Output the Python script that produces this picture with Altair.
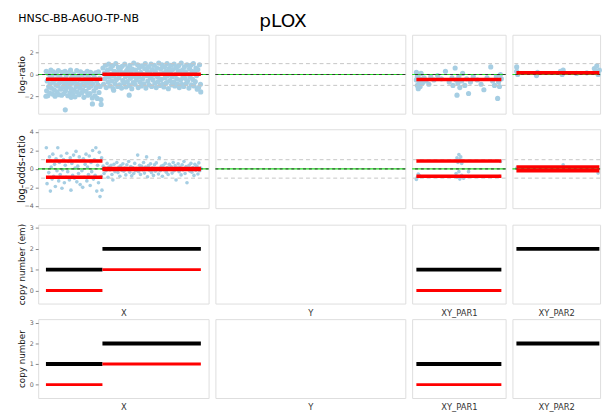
import altair as alt
import pandas as pd

# ---------------- chromosomes / panels ----------------
chroms = ["X", "Y", "XY_PAR1", "XY_PAR2"]
chrom_start = [2.7, 2.7, 0.0, 155.70]
chrom_end = [155.7, 57.2, 2.72, 156.017]
panel_w = [175, 195, 96, 90]
panel_h = 81

sample_title = "HNSC-BB-A6UO-TP-NB"
main_title = "pLOX"

row_titles = ["log-ratio", "log-odds-ratio", "copy number (em)", "copy number"]
row_title_size = [9.2, 10, 9, 9]
row_domains = [[-3.6, 3.65], [-4.25, 4.3], [-0.63, 3.16], [-0.65, 3.18]]
row_ticks = [[-2, 0, 2], [-4, -2, 0, 2, 4], [0, 1, 2, 3], [0, 1, 2, 3]]

# ---------------- log-ratio points ----------------
lr_x_xl = [3.0, 3.4, 3.9, 4.5, 5.0, 5.4, 6.1, 6.5, 7.0, 7.6,
           8.1, 8.6, 9.2, 9.7, 10.1, 10.8, 11.3, 11.7, 12.4, 12.9,
           13.5, 13.9, 14.6, 15.0, 15.5, 16.2, 16.6, 17.3, 17.8, 18.2,
           18.9, 19.4, 20.0, 20.5, 21.1, 21.6, 22.0, 22.7, 23.2, 23.8,
           24.3, 24.9, 25.4, 25.9, 26.5, 27.0, 27.6, 28.1, 28.7, 29.2,
           29.8, 30.3, 30.9, 31.4, 32.0, 32.5, 33.1, 33.6, 34.2, 34.7,
           35.3, 35.8, 36.4, 36.9, 37.5, 38.0, 38.6, 39.1, 39.7, 40.2,
           40.8, 41.3, 41.9, 42.4, 43.0, 43.5, 44.1, 44.6, 45.2, 45.7,
           46.3, 46.8, 47.4, 47.9, 48.5, 49.0, 49.6, 50.1, 50.7, 51.2,
           51.8, 52.3, 52.9, 53.4, 54.0, 54.5, 55.1, 55.6, 56.2, 57.0,
           2.7, 21.8, 27.6, 48.6, 57.2]
lr_y_xl = [0.30, -1.50, -0.60, -1.95, 0.10, -1.10, -0.35, -1.70, -0.85, 0.40,
           -1.25, -0.15, -1.80, -0.70, 0.25, -1.40, -0.50, -2.00, -0.95, 0.05,
           -1.60, -0.40, -1.05, 0.35, -1.85, -0.75, -0.20, -1.35, -0.60, -1.90,
           0.20, -1.15, -0.45, -1.75, -0.90, 0.30, -1.50, -0.10, -1.20, -0.65,
           -1.95, 0.15, -1.00, -0.55, -1.65, 0.40, -1.30, -0.25, -0.80, -1.80,
           0.05, -1.45, -0.70, -2.05, -0.30, -1.10, 0.35, -1.60, -0.90, -0.15,
           -1.85, -0.50, -1.25, 0.25, -0.95, -1.70, -0.05, -1.40, -0.60, -2.10,
           0.10, -1.00, -0.40, -1.55, -0.80, 0.30, -1.90, -0.20, -1.20, -0.65,
           -1.75, 0.20, -1.05, -0.45, -2.15, -0.85, 0.00, -1.50, -0.30, -1.95,
           0.15, -1.20, -0.60, -2.20, -0.95, 0.25, -1.65, -0.35, -1.10, -2.30,
           -2.0, -3.25, -2.1, -2.7, -2.75]

lr_x_xr = [59.0, 59.6, 60.3, 60.9, 61.5, 62.2, 62.8, 63.4, 64.1, 64.7,
           65.3, 66.0, 66.6, 67.2, 67.9, 68.5, 69.1, 69.8, 70.4, 71.0,
           71.7, 72.3, 72.9, 73.6, 74.2, 74.8, 75.5, 76.1, 76.7, 77.4,
           78.0, 78.6, 79.3, 79.9, 80.5, 81.2, 81.8, 82.4, 83.1, 83.7,
           84.3, 85.0, 85.6, 86.2, 86.9, 87.5, 88.1, 88.8, 89.4, 90.0,
           90.7, 91.3, 91.9, 92.6, 93.2, 93.8, 94.5, 95.1, 95.7, 96.4,
           97.0, 97.6, 98.3, 98.9, 99.5, 100.2, 100.8, 101.4, 102.1, 102.7,
           103.3, 104.0, 104.6, 105.2, 105.9, 106.5, 107.1, 107.8, 108.4, 109.0,
           109.7, 110.3, 110.9, 111.6, 112.2, 112.8, 113.5, 114.1, 114.7, 115.4,
           116.0, 116.6, 117.3, 117.9, 118.5, 119.2, 119.8, 120.4, 121.1, 121.7,
           122.3, 123.0, 123.6, 124.2, 124.9, 125.5, 126.1, 126.8, 127.4, 128.0,
           128.7, 129.3, 129.9, 130.6, 131.2, 131.8, 132.5, 133.1, 133.7, 134.4,
           135.0, 135.6, 136.3, 136.9, 137.5, 138.2, 138.8, 139.4, 140.1, 140.7,
           141.3, 142.0, 142.6, 143.2, 143.9, 144.5, 145.1, 145.8, 146.4, 147.0,
           147.7, 148.3, 148.9, 149.6, 150.2, 150.8, 151.5, 152.1, 152.7, 155.3,
           69.6, 84.9, 155.6, 153.5, 154.4]
lr_y_xr = [0.60, -0.90, 0.10, -0.40, 0.85, -1.20, -0.10, 0.40, -0.70, 0.95,
           -0.25, -1.05, 0.55, 0.05, -0.60, 0.80, -1.30, -0.15, 0.30, -0.85,
           1.00, -0.45, 0.20, -1.10, 0.65, -0.30, -0.95, 0.45, 0.00, -1.25,
           0.75, -0.55, 0.15, -0.80, 0.95, -0.20, -1.15, 0.35, -0.65, 0.60,
           -0.05, -1.00, 0.85, -0.35, 0.25, -1.30, 0.50, -0.75, 1.05, -0.15,
           -0.90, 0.40, -0.50, 0.10, 0.90, -1.20, -0.25, 0.65, -0.70, 0.20,
           -1.05, 0.80, -0.40, 0.00, -0.85, 0.55, 1.00, -1.25, -0.10, 0.35,
           -0.60, 0.70, -0.95, 0.15, -0.30, 0.95, -1.10, 0.45, -0.50, -0.05,
           0.85, -0.80, 0.25, -1.20, 0.60, -0.20, -0.65, 1.05, 0.05, -1.00,
           0.50, -0.45, 0.90, -0.90, 0.10, -1.15, 0.70, -0.30, 0.30, -0.75,
           1.00, -0.10, -1.30, 0.55, -0.55, 0.20, 0.85, -0.95, -0.20, 0.45,
           -0.70, 0.95, -1.05, 0.00, 0.65, -0.40, -0.85, 0.35, 0.80, -1.20,
           0.15, -0.50, 1.05, -0.90, 0.40, -0.15, -1.10, 0.70, -0.35, 0.25,
           -0.80, 0.90, -0.60, 0.05, -1.25, 0.55, -0.25, 0.85, -0.95, 0.30,
           -0.45, 1.00, -1.05, 0.20, -0.65, 0.60, -0.10, -1.35, 0.45, -0.90,
           -1.45, -1.90, -1.60, -1.20, 0.90]

lr_x_par1 = [0.00, 0.00, 0.03, 0.03, 0.06, 0.06, 0.09, 0.12, 0.12, 0.15,
             0.19, 0.25, 0.31, 0.40, 0.46, 0.56, 0.68, 0.80, 0.93, 1.05,
             1.14, 1.17, 1.24, 1.27, 1.30, 1.33, 1.36, 1.39, 1.45, 1.48,
             1.55, 1.61, 1.67, 1.73, 1.82, 1.95, 2.07, 2.16, 2.26, 2.38,
             2.44, 2.50, 2.56, 2.60, 2.63, 2.66, 2.69, 2.72]
lr_y_par1 = [0.2, -0.5, -1.0, -0.2, -1.3, 0.0, -0.7, -0.4, -1.1, 0.1,
             -0.8, -0.3, -0.6, -0.9, -0.2, -0.5, -0.1, -0.4, 0.3, -0.7,
             -0.3, -1.0, 0.6, -0.5, -1.9, -0.8, -0.2, -1.2, -0.6, 0.1,
             -1.0, -0.4, -1.75, -0.7, -0.2, -0.5, -0.9, -1.4, -0.3, 0.7,
             -0.6, -1.0, -0.2, -2.2, -0.7, -1.1, 0.0, -0.4]

lr_x_par2 = [155.701, 155.701, 155.705, 155.780, 155.784, 155.875, 155.882,
             155.886, 155.939, 155.980, 156.010, 156.015, 156.020, 156.025, 156.030]
lr_y_par2 = [0.7, 0.3, 0.0, -0.1, 0.2, 0.3, 0.0, 0.4, 0.1, 0.15, 0.55, 0.3, 0.8, 0.0, 0.4]

# ---------------- log-odds-ratio points ----------------
lor_x_xl = [3.1, 3.8, 4.6, 5.5, 6.2, 7.1, 7.9, 8.8, 9.5, 10.3,
            11.2, 12.0, 12.7, 13.6, 14.4, 15.3, 16.0, 16.8, 17.7, 18.5,
            19.2, 20.1, 20.9, 21.8, 22.6, 23.3, 24.2, 25.0, 25.9, 26.7,
            27.4, 28.3, 29.1, 30.0, 30.8, 31.5, 32.4, 33.2, 34.1, 34.9,
            35.6, 36.5, 37.3, 38.2, 39.0, 39.7, 40.6, 41.4, 42.3, 43.1,
            43.8, 44.7, 45.5, 46.4, 47.2, 47.9, 48.8, 49.6, 50.5, 51.3,
            52.0, 52.9, 53.7, 54.6, 55.4, 56.1, 56.8, 57.3, 57.7, 58.0]
lor_y_xl = [2.30, -1.60, 0.90, -0.40, 1.30, -2.40, 0.20, -1.10, 1.60, -0.80,
            0.50, -1.90, 1.10, -0.20, 2.30, -1.30, 0.70, -0.60, 1.40, -2.10,
            -0.10, 1.00, -1.50, 0.40, -0.90, 1.70, -0.30, 0.80, -1.20, 1.20,
            -2.30, 0.60, -0.70, 1.50, -1.00, 0.10, 1.90, -1.40, 0.30, -0.50,
            1.30, -1.70, 0.90, -0.20, -2.00, 1.10, -0.90, 0.50, 1.60, -1.30,
            0.20, -0.60, 1.40, -1.80, 0.70, -0.30, 2.00, -1.10, 1.00, -0.70,
            2.30, -2.40, 0.40, -1.50, 1.80, -3.00, 0.90, -0.80, 1.20, -2.30]

lor_x_xr = [59.2, 60.1, 61.0, 62.0, 63.1, 64.0, 64.9, 66.0, 67.0, 67.9,
            68.8, 69.9, 70.9, 71.8, 72.7, 73.8, 74.8, 75.7, 76.6, 77.7,
            78.7, 79.6, 80.5, 81.6, 82.6, 83.5, 84.4, 85.5, 86.5, 87.4,
            88.3, 89.4, 90.4, 91.3, 92.2, 93.3, 94.3, 95.2, 96.1, 97.2,
            98.2, 99.1, 100.0, 101.1, 102.1, 103.0, 103.9, 105.0, 106.0, 106.9,
            107.8, 108.9, 109.9, 110.8, 111.7, 112.8, 113.8, 114.7, 115.6, 116.7,
            117.7, 118.6, 119.5, 120.6, 121.6, 122.5, 123.4, 124.5, 125.5, 126.4,
            127.3, 128.4, 129.4, 130.3, 131.2, 132.3, 133.3, 134.2, 135.1, 136.2,
            137.2, 138.1, 139.0, 140.1, 141.1, 142.0, 142.9, 144.0, 145.0, 145.9,
            146.8, 147.9, 148.9, 149.8, 150.7, 151.8, 152.8, 153.7, 154.6, 155.5]
lor_y_xr = [0.30, -0.50, 0.10, -0.20, 0.60, -0.90, 0.20, -0.10, 0.40, -0.60,
            -1.20, 0.50, -0.30, 0.00, 0.70, -0.40, 0.20, -0.80, 0.35, -0.15,
            0.55, -0.25, 0.10, -0.65, 0.45, -0.05, 0.80, -0.35, 0.25, -0.75,
            0.15, -0.50, 0.60, -0.20, 0.05, 1.50, -0.30, 0.40, -0.60, 0.30,
            -0.10, 0.70, -0.45, 0.20, 1.30, -0.85, 0.35, -0.15, 0.55, -0.40,
            0.10, -0.70, 0.45, -0.25, 0.65, 0.00, -0.55, 1.20, -0.20, 0.30,
            -0.80, 0.40, -0.10, 0.60, -0.35, 0.15, -0.60, 0.50, -0.05, 0.25,
            -0.45, 0.70, -0.20, 0.35, -1.20, 0.10, 0.55, -0.30, 0.20, -0.65,
            0.45, -0.10, 0.80, -0.50, 0.25, -1.50, 0.05, 0.40, -0.25, 0.60,
            -0.35, 0.15, -0.70, 0.50, -0.15, 0.30, -0.55, 0.65, -0.20, 0.10]

lor_x_par1 = [0.00, 0.03, 0.06, 0.09, 1.24, 1.27, 1.30, 1.30, 1.33, 1.36,
              1.36, 1.39, 1.39, 1.42, 1.45, 1.45, 1.48, 1.51, 1.67, 2.66, 2.69]
lor_y_par1 = [-1.15, -0.9, -0.55, -0.7, 0.9, -0.5, 1.2, -0.9, 0.7, 1.55,
              -0.3, 1.0, -1.1, 1.3, 0.6, -0.7, 0.9, -1.0, -0.3, -0.8, 0.8]

lor_x_par2 = [155.701, 155.886, 156.025]
lor_y_par2 = [0.1, 0.45, -0.45]

# ---------------- segments ----------------
seg_lr_chrom = ["X", "X", "XY_PAR1", "XY_PAR2"]
seg_lr_start = [2.7, 58.5, 0.0, 155.70]
seg_lr_end = [58.5, 155.7, 2.72, 156.03]
seg_lr_val = [-0.44, 0.02, -0.45, 0.15]

seg_lor_chrom = ["X", "X", "X", "X", "XY_PAR1", "XY_PAR1", "XY_PAR2", "XY_PAR2"]
seg_lor_start = [2.7, 2.7, 58.5, 58.5, 0.0, 0.0, 155.70, 155.70]
seg_lor_end = [58.5, 58.5, 155.7, 155.7, 2.72, 2.72, 156.03, 156.03]
seg_lor_val = [0.87, -0.90, 0.05, -0.05, 0.87, -0.80, 0.2, -0.2]

cn_chrom = ["X", "X", "XY_PAR1", "XY_PAR2"]
cn_start = [2.7, 58.5, 0.0, 155.70]
cn_end = [58.5, 155.7, 2.72, 156.03]
cn_total = [1, 2, 1, 2]
minor_chrom = ["X", "X", "XY_PAR1"]
minor_start = [2.7, 58.5, 0.0]
minor_end = [58.5, 155.7, 2.72]
cn_minor = [0, 1, 0]

ref_grey = [-1, 1]
ref_zero = [0]

# ---------------- tables ----------------
lr_pts = pd.DataFrame({
    "chrom": ["X"] * (len(lr_x_xl) + len(lr_x_xr)) + ["XY_PAR1"] * len(lr_x_par1) + ["XY_PAR2"] * len(lr_x_par2),
    "pos": lr_x_xl + lr_x_xr + lr_x_par1 + lr_x_par2,
    "val": lr_y_xl + lr_y_xr + lr_y_par1 + lr_y_par2,
})
lor_pts = pd.DataFrame({
    "chrom": ["X"] * (len(lor_x_xl) + len(lor_x_xr)) + ["XY_PAR1"] * len(lor_x_par1) + ["XY_PAR2"] * len(lor_x_par2),
    "pos": lor_x_xl + lor_x_xr + lor_x_par1 + lor_x_par2,
    "val": lor_y_xl + lor_y_xr + lor_y_par1 + lor_y_par2,
})
seg_lr = pd.DataFrame({"chrom": seg_lr_chrom, "start": seg_lr_start, "end": seg_lr_end, "val": seg_lr_val})
seg_lor = pd.DataFrame({"chrom": seg_lor_chrom, "start": seg_lor_start, "end": seg_lor_end, "val": seg_lor_val})
seg_tot = pd.DataFrame({"chrom": cn_chrom, "start": cn_start, "end": cn_end, "val": cn_total})
seg_min = pd.DataFrame({"chrom": minor_chrom, "start": minor_start, "end": minor_end, "val": cn_minor})
grey_df = pd.DataFrame({"y": ref_grey})
zero_df = pd.DataFrame({"y": ref_zero})

POINT_COLOR = "#a6cee3"
RED = "#ff0000"


def sub(df, c):
    return df[df["chrom"] == c].reset_index(drop=True)


def make_xaxis(r, ci):
    c = chroms[ci]
    common = dict(labels=False, ticks=False, domain=False, grid=False, titleFontWeight="normal")
    if r == 0 and ci == 0:
        # sample name, placed as a top axis title above the first panel
        return alt.Axis(orient="top", title=sample_title, titleX=-21, titleY=-14,
                        titleAlign="left", titleBaseline="alphabetic", titleAngle=0,
                        titleFontSize=11.3, titleColor="#000000", **common)
    if r == 0 and ci == 1:
        return alt.Axis(orient="top", title=main_title, titleX=44.5, titleY=-8,
                        titleAlign="left", titleBaseline="alphabetic", titleAngle=0,
                        titleFontSize=19, titleColor="#000000", **common)
    return alt.Axis(title=c, titleFontSize=8.6, titleColor="#333333",
                    titlePadding=5, titleOpacity=(0 if r < 2 else 1), **common)


def make_panel(r, ci):
    c = chroms[ci]
    L = chrom_end[ci] - chrom_start[ci]
    xs = alt.Scale(domain=[chrom_start[ci] - 0.05 * L, chrom_end[ci] + 0.05 * L], nice=False, zero=False)
    ys = alt.Scale(domain=row_domains[r], nice=False, zero=False)
    xaxis = make_xaxis(r, ci)
    if ci == 0:
        yaxis = alt.Axis(title=row_titles[r], values=row_ticks[r], grid=False, domain=False,
                         labelOverlap=False, tickColor="#888888", tickSize=3,
                         labelFontSize=6.5, labelColor="#666666",
                         labelPadding=2, minExtent=10, maxExtent=10, titlePadding=2,
                         titleFontSize=row_title_size[r], titleFontWeight="normal", titleColor="#111111")
    else:
        yaxis = None

    def X(field):
        return alt.X(field, scale=xs, axis=xaxis)

    def Y(field):
        return alt.Y(field, scale=ys, axis=yaxis)

    layers = []
    if r < 2:
        pts = sub(lr_pts if r == 0 else lor_pts, c)
        segs = sub(seg_lr if r == 0 else seg_lor, c)
        psize = 28 if r == 0 else 14
        layers.append(alt.Chart(pts).mark_circle(size=psize, color=POINT_COLOR, opacity=1).encode(
            x=X("pos:Q"), y=Y("val:Q")))
        layers.append(alt.Chart(grey_df).mark_rule(color="#c4c4c4", strokeDash=[4, 3], strokeWidth=1).encode(
            y=Y("y:Q")))
        layers.append(alt.Chart(zero_df).mark_rule(color="#22dd22", strokeWidth=1.2).encode(
            y=Y("y:Q")))
        layers.append(alt.Chart(zero_df).mark_rule(color="#333333", strokeDash=[3, 3], strokeWidth=1).encode(
            y=Y("y:Q")))
        layers.append(alt.Chart(segs).mark_rule(color=RED, strokeWidth=3.6).encode(
            x=X("start:Q"), x2="end:Q", y=Y("val:Q")))
    else:
        tot = sub(seg_tot, c)
        mn = sub(seg_min, c)
        layers.append(alt.Chart(tot).mark_rule(color="#000000", strokeWidth=4).encode(
            x=X("start:Q"), x2="end:Q", y=Y("val:Q")))
        layers.append(alt.Chart(mn).mark_rule(color=RED, strokeWidth=3).encode(
            x=X("start:Q"), x2="end:Q", y=Y("val:Q")))

    return alt.layer(*layers).properties(width=panel_w[ci], height=panel_h)


panels = [make_panel(r, ci) for r in range(4) for ci in range(4)]

chart = alt.concat(*panels, columns=4, spacing={"row": 0, "column": 3}).properties(
    padding={"left": 8, "top": -2, "right": 0, "bottom": 0},
    background="white",
).configure_view(
    stroke="#aaaaaa", strokeWidth=1
).configure(
    font="DejaVu Sans"
)

chart.save("out.html", embed_options={"renderer": "svg", "actions": False})
